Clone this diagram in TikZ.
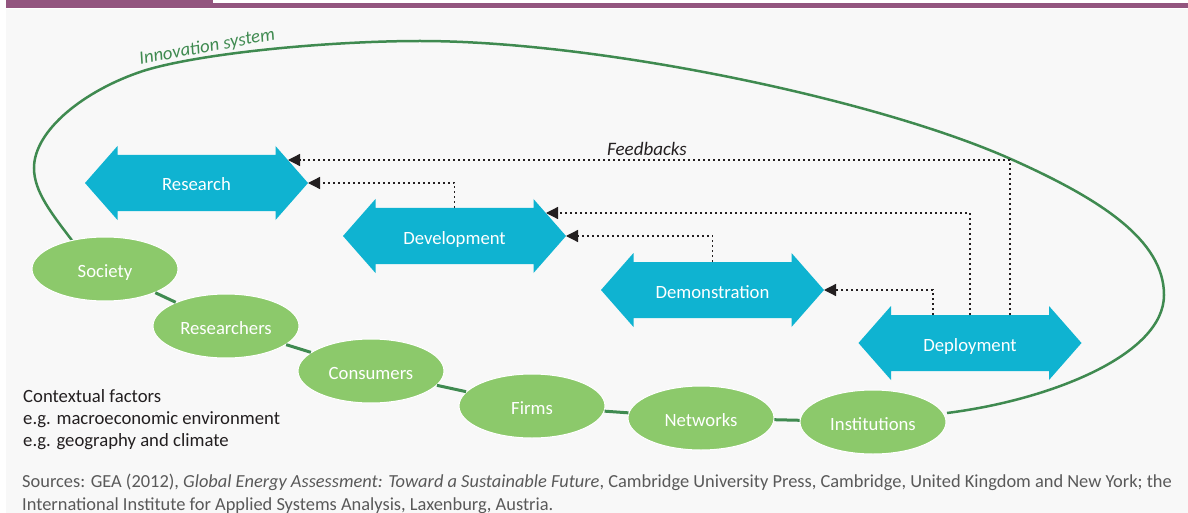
\documentclass[tikz,border=0pt]{standalone}
\usepackage{fontspec}
\setmainfont{Carlito}
\usetikzlibrary{arrows.meta,shapes.geometric}
\definecolor{bgc}{HTML}{F8F8F8}
\definecolor{purp}{HTML}{93557F}
\definecolor{cyanc}{HTML}{0FB3D1}
\definecolor{leaf}{HTML}{8CC96B}
\definecolor{ring}{HTML}{3F8A50}
\definecolor{ink}{HTML}{231F20}
\definecolor{srcgrey}{HTML}{595959}
\newcommand\dblarrowshape[1]{\fill[cyanc,shift={(#1)}] (-111.5,0) -- (-79,-37) -- (-79,-28) -- (79,-28) -- (79,-37) -- (111.5,0) -- (79,37) -- (79,28) -- (-79,28) -- (-79,37) -- cycle;}
\tikzset{
  arrowtext/.style={text=white, font=\fontsize{18.7}{22}\selectfont, inner sep=0pt, text height=16pt, text depth=0pt},
  actor/.style={ellipse, fill=leaf, draw=white, line width=1pt, minimum width=146pt, minimum height=64pt, inner sep=0pt, text=white, font=\fontsize{18.7}{22}\selectfont, text height=16pt, text depth=0pt},
  link/.style={draw=ring, line width=3pt},
  fb/.style={draw=ink, line width=1.3pt, dash pattern=on 2pt off 3pt, -{Triangle[length=12pt,width=12pt]}},
  plain/.style={text=ink, font=\fontsize{18.7}{22}\selectfont, inner sep=0pt, anchor=base west},
  src/.style={text=srcgrey, font=\fontsize{18.4}{20}\selectfont, inner sep=0pt, anchor=base west}
}
\begin{document}
\begin{tikzpicture}[x=1pt,y=-1pt]
\useasboundingbox (0,0) rectangle (1188,513);
\fill[white] (0,0) rectangle (1188,513);
\fill[bgc] (6,9) rectangle (1188,513);
\fill[purp] (6,0) rectangle (213,8.5);
\fill[purp] (213,3) rectangle (1188,8.5);

% innovation system ring
\draw[ring, line width=2.5pt] (74,243)
  .. controls (52,214) and (34,192) .. (34,168)
  .. controls (34,130) and (85,90) .. (143,71)
  .. controls (200,53) and (330,41) .. (420,41)
  .. controls (600,41) and (880,100) .. (1013,160)
  .. controls (1100,199) and (1164,240) .. (1164,295)
  .. controls (1164,355) and (1050,400) .. (947,413);
\node[text=ring, font=\fontsize{18.7}{22}\selectfont\itshape, inner sep=0pt, anchor=base, rotate=10.4] (innov) at (208,52) {Innovation system};

% stage arrows
\dblarrowshape{196.5,183}
\node[arrowtext] (res) at (196.5,183) {Research};
\dblarrowshape{454.5,236}
\node[arrowtext] (dev) at (454.5,236) {Development};
\dblarrowshape{712.5,290}
\node[arrowtext] (demo) at (712.5,290) {Demonstration};
\dblarrowshape{970,343}
\node[arrowtext] (depl) at (970,343) {Deployment};

% feedback anchor points
\coordinate (f1s) at (454.5,208);  \coordinate (f1e) at (308,183);
\coordinate (f2s) at (1010,315);   \coordinate (f2e) at (288,160);
\coordinate (f3s) at (970,315);    \coordinate (f3e) at (546,213);
\coordinate (f4s) at (712.5,262);  \coordinate (f4e) at (566,236);
\coordinate (f5s) at (933,315);    \coordinate (f5e) at (824,290);
\draw[fb] (f1s) |- (f1e);
\draw[fb] (f2s) |- (f2e);
\draw[fb] (f3s) |- (f3e);
\draw[fb] (f4s) |- (f4e);
\draw[fb] (f5s) |- (f5e);
\node[text=ink, font=\fontsize{19}{22}\selectfont\itshape, inner sep=0pt, anchor=base] (fbl) at (647,156) {Feedbacks};

% actors
\node[actor] (soc) at (105,269) {Society};
\node[actor] (rsr) at (226,326) {Researchers};
\node[actor] (con) at (371,371) {Consumers};
\node[actor] (frm) at (532,406) {Firms};
\node[actor] (net) at (701,418) {Networks};
\node[actor] (ins) at (873,422) {Institutions};
\draw[link] (soc) -- (rsr);
\draw[link] (rsr) -- (con);
\draw[link] (con) -- (frm);
\draw[link] (frm) -- (net);
\draw[link] (net) -- (ins);

% contextual factors
\node[plain] (ctx1) at (23,402) {Contextual factors};
\node[plain] (ctx2) at (23,424) {e.g. macroeconomic environment};
\node[plain] (ctx3) at (23,446) {e.g. geography and climate};

% sources
\node[src] (src1) at (22,487) {Sources: GEA (2012), \textit{Global Energy Assessment: Toward a Sustainable Future}, Cambridge University Press, Cambridge, United Kingdom and New York; the};
\node[src] (src2) at (22,510) {International Institute for Applied Systems Analysis, Laxenburg, Austria.};
\end{tikzpicture}
\end{document}
